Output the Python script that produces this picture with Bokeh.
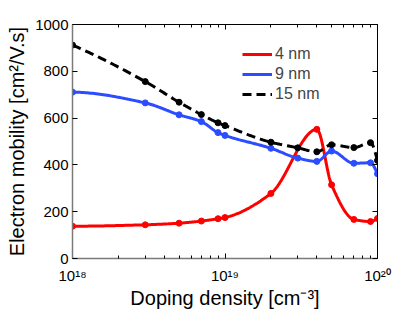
import numpy as np
from bokeh.plotting import figure
from bokeh.models import (LinearAxis, LogAxis, FixedTicker, Legend, LegendItem,
                          Range1d)
from bokeh.embed import file_html
from bokeh.resources import INLINE

# ---- data ----
doping_4nm = [1e18, 3e18, 5e18, 7e18, 9e18, 1e19, 2e19, 4e19, 5e19, 7e19, 9e19, 1e20]
mob_4nm = [138, 144, 151, 160, 170, 175, 278, 552, 315, 167, 158, 171]

doping_9nm = [1e18, 3e18, 5e18, 7e18, 9e18, 1e19, 2e19, 3e19, 4e19, 5e19, 7e19, 9e19, 1e20]
mob_9nm = [711, 665, 614, 585, 538, 526, 471, 429, 415, 459, 407, 409, 362]

doping_15nm = [1e18, 3e18, 5e18, 7e18, 9e18, 1e19, 2e19, 3e19, 4e19, 5e19, 7e19, 9e19, 1e20]
mob_15nm = [912, 756, 668, 615, 580, 568, 497, 473, 456, 486, 474, 495, 419]

x_major = [1e18, 1e19, 1e20]
x_labels = ["10\u00b9\u2078", "10\u00b9\u2079", "10\u00b2\u2070"]
y_ticks = [0, 200, 400, 600, 800, 1000]

FONT = "Liberation Sans"


def pchip_curve(xs, ys, n=40):
    """Shape-preserving cubic curve through the points, in log10(x)."""
    lx = np.log10(np.asarray(xs, float))
    y = np.asarray(ys, float)
    h = np.diff(lx)
    d = np.diff(y) / h
    m = np.zeros_like(y)
    for k in range(1, len(y) - 1):
        if d[k - 1] * d[k] > 0:
            w1 = 2 * h[k] + h[k - 1]
            w2 = h[k] + 2 * h[k - 1]
            m[k] = (w1 + w2) / (w1 / d[k - 1] + w2 / d[k])
    def end(h0, h1, d0, d1):
        s = ((2 * h0 + h1) * d0 - h0 * d1) / (h0 + h1)
        if np.sign(s) != np.sign(d0):
            s = 0.0
        elif np.sign(d0) != np.sign(d1) and abs(s) > abs(3 * d0):
            s = 3 * d0
        return s
    m[0] = end(h[0], h[1], d[0], d[1])
    m[-1] = end(h[-1], h[-2], d[-1], d[-2])
    ox, oy = [], []
    for k in range(len(y) - 1):
        t = np.linspace(0, 1, n, endpoint=(k == len(y) - 2))
        h00 = 2 * t**3 - 3 * t**2 + 1
        h10 = t**3 - 2 * t**2 + t
        h01 = -2 * t**3 + 3 * t**2
        h11 = t**3 - t**2
        ox.extend(lx[k] + t * h[k])
        oy.extend(h00 * y[k] + h10 * h[k] * m[k] + h01 * y[k + 1] + h11 * h[k] * m[k + 1])
    return [float(v) for v in 10 ** np.array(ox)], [float(v) for v in oy]


p = figure(x_axis_type="log", x_range=Range1d(1e18, 1e20), y_range=Range1d(0, 1000),
           frame_width=305, frame_height=234,
           min_border_left=72, min_border_right=30, min_border_top=24, min_border_bottom=48,
           output_backend="svg", toolbar_location=None, background_fill_color="white",
           border_fill_color="white")
p.outline_line_color = "black"
p.outline_line_width = 1
p.grid.visible = False

red = "#ff0000"
blue = "#2b4cff"
black = "#000000"

series = [
    (doping_4nm, mob_4nm, red, "solid", "4 nm"),
    (doping_9nm, mob_9nm, blue, "solid", "9 nm"),
    (doping_15nm, mob_15nm, black, "9 5", "15 nm"),
]
items = []
for xs, ys, col, dash, lab in series:
    cx, cy = pchip_curve(xs, ys)
    r = p.line(cx, cy, line_color=col, line_width=3, line_dash=dash)
    p.scatter(xs, ys, size=6, fill_color=col, line_color=col)
    items.append(LegendItem(label=lab, renderers=[r]))

legend = Legend(items=items, location=(170, 154), padding=0, margin=0, spacing=0,
                glyph_width=30, glyph_height=20, label_standoff=3,
                label_text_font=FONT, label_text_font_size="16px",
                border_line_color=None, background_fill_alpha=0)
p.add_layout(legend)

minor = [k * 10.0**e for e in (18, 19) for k in range(2, 10)]

xa = p.xaxis[0]
xa.ticker = FixedTicker(ticks=x_major, minor_ticks=minor)
xa.major_label_overrides = dict(zip(x_major, x_labels))
xa.axis_label = "Doping density [cm\u207b\u00b3]"

ya = p.yaxis[0]
ya.ticker = FixedTicker(ticks=y_ticks)
ya.axis_label = "Electron mobility [cm\u00b2/V.s]"

for ax in (xa, ya):
    ax.axis_line_color = "#7a7a7a"
    ax.axis_line_width = 1.5
    ax.major_tick_in = 5
    ax.major_tick_out = 0
    ax.minor_tick_in = 3
    ax.minor_tick_out = 0
    ax.major_tick_line_color = "black"
    ax.minor_tick_line_color = "black"
    ax.major_label_text_font = FONT
    ax.major_label_text_font_size = "15px"
    ax.major_label_text_color = "black"
    ax.axis_label_text_font = FONT
    ax.axis_label_text_font_size = "20px"
    ax.axis_label_text_font_style = "normal"
    ax.axis_label_text_color = "black"

xa.major_label_standoff = 8
xa.axis_label_standoff = 0
ya.major_label_standoff = 4
ya.axis_label_standoff = 4
ya.minor_tick_line_color = None

top = LogAxis(ticker=FixedTicker(ticks=x_major, minor_ticks=minor))
right = LinearAxis(ticker=FixedTicker(ticks=y_ticks))
for ax in (top, right):
    ax.major_label_text_font_size = "1px"
    ax.major_label_text_alpha = 0
    ax.major_label_standoff = 0
    ax.axis_line_color = "black"
    ax.major_tick_in = 5
    ax.major_tick_out = 0
    ax.minor_tick_in = 3
    ax.minor_tick_out = 0
    ax.major_tick_line_color = "black"
    ax.minor_tick_line_color = "black"
right.minor_tick_line_color = None
p.add_layout(top, "above")
p.add_layout(right, "right")

open("out.html", "w").write(file_html(p, INLINE))
